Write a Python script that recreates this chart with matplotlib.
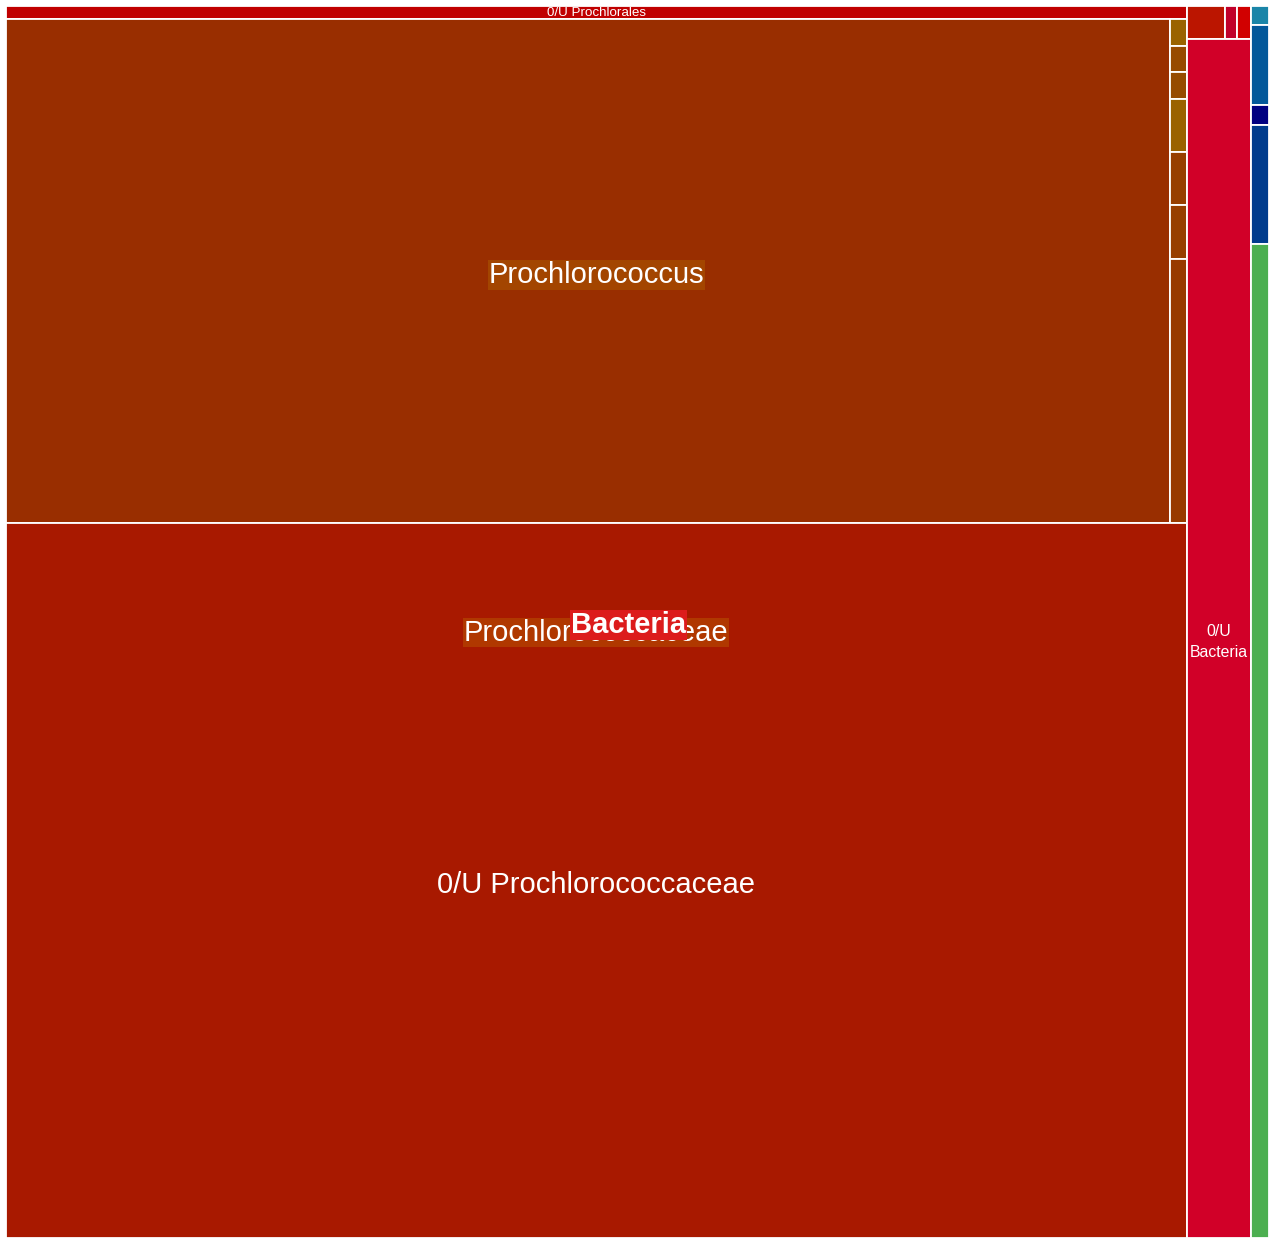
import matplotlib
matplotlib.use("Agg")
import matplotlib.pyplot as plt
from matplotlib.patches import Rectangle

plt.rcParams['font.family'] = ['Liberation Sans', 'DejaVu Sans']

# read counts
unk_prochlorales = 15350
prochlorococcus_main = 586656
prochlorococcus_sub = [445, 437, 437, 883, 875, 875, 4364]
prochlorococcus_sub_colors = ['#9a6300', '#974a00', '#964b00', '#9a6200', '#973f00', '#973f00', '#983a00']
unk_prochlorococcaceae = 844058
top_small = [1270, 412, 446]
top_small_colors = ['#bb1500', '#c1002a', '#d10000']
unk_bacteria = 77336
right_col = [342, 1440, 360, 2142, 17892]
right_col_colors = ['#1a85a8', '#03589a', '#000080', '#003b8c', '#4caf50']


def split(box, values, horizontal):
    x0, y0, x1, y1 = box
    total = float(sum(values))
    out = []
    pos = x0 if horizontal else y0
    for v in values:
        if horizontal:
            step = (x1 - x0) * v / total
            out.append((pos, y0, pos + step, y1))
        else:
            step = (y1 - y0) * v / total
            out.append((x0, pos, x1, pos + step))
        pos += step
    return out


fig = plt.figure(figsize=(12.69, 12.38), dpi=100)
ax = fig.add_axes([0, 0, 1, 1])
ax.set_xlim(0, 1269)
ax.set_ylim(1238, 0)
ax.axis('off')

def cell(box, color):
    x0, y0, x1, y1 = box
    ax.add_patch(Rectangle((x0, y0), x1 - x0, y1 - y0, facecolor=color,
                           edgecolor='white', linewidth=1.3))

def label(box, text, size, bg=None, bold=False, dy=4):
    x0, y0, x1, y1 = box
    kw = {}
    if bg:
        kw['bbox'] = dict(boxstyle='square,pad=0.02', facecolor=bg, edgecolor='none')
    ax.text((x0 + x1) / 2, (y0 + y1) / 2 + dy, text, color='white', fontsize=size,
            ha='center', va='center', fontweight='bold' if bold else 'normal',
            linespacing=1.5, **kw)

prochlorococcus_total = prochlorococcus_main + sum(prochlorococcus_sub)
prochlorococcaceae_total = prochlorococcus_total + unk_prochlorococcaceae
prochlorales_total = unk_prochlorales + prochlorococcaceae_total
col2_total = sum(top_small) + unk_bacteria

root = (6, 6, 1269, 1238)
b_prochlorales, b_col2, b_col3 = split(root, [prochlorales_total, col2_total, sum(right_col)], True)

b_unk_prl, b_pccaceae = split(b_prochlorales, [unk_prochlorales, prochlorococcaceae_total], False)
b_pcc, b_unk_pccaceae = split(b_pccaceae, [prochlorococcus_total, unk_prochlorococcaceae], False)
b_pcc_main, b_pcc_sub = split(b_pcc, [prochlorococcus_main, sum(prochlorococcus_sub)], True)

cell(b_unk_prl, '#c00000')
cell(b_pcc_main, '#992e00')
for bx, c in zip(split(b_pcc_sub, prochlorococcus_sub, False), prochlorococcus_sub_colors):
    cell(bx, c)
cell(b_unk_pccaceae, '#a81900')

b_top, b_unk_bac = split(b_col2, [sum(top_small), unk_bacteria], False)
for bx, c in zip(split(b_top, top_small, True), top_small_colors):
    cell(bx, c)
cell(b_unk_bac, '#d10028')

for bx, c in zip(split(b_col3, right_col, False), right_col_colors):
    cell(bx, c)

label(b_unk_prl, '0/U Prochlorales', 9.6, dy=0.5)
label(b_pcc, 'Prochlorococcus', 21, bg='#a34500')
label(b_unk_pccaceae, '0/U Prochlorococcaceae', 21)
label(b_unk_bac, '0/U\nBacteria', 11.4)
label(b_pccaceae, 'Prochlorococcaceae', 21, bg='#b03800')
bac_box = (b_prochlorales[0], root[1], b_col2[2], root[3])
label(bac_box, 'Bacteria', 21, bg='#dc1c1c', bold=True, dy=3)

fig.savefig('out.png', dpi=100)
